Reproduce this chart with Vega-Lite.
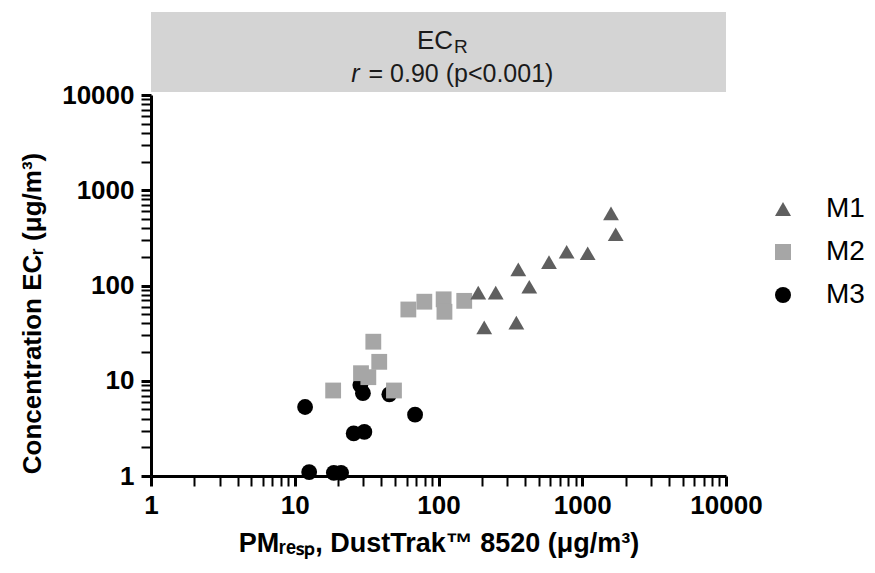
{
  "$schema": "https://vega.github.io/schema/vega-lite/v6.json",
  "background": "white",
  "padding": {"left": 19, "top": 12, "right": 5, "bottom": 5},
  "spacing": 3,
  "bounds": "flush",
  "config": {
    "font": "Liberation Sans",
    "view": {"stroke": null},
    "axis": {
      "labelFont": "Liberation Sans",
      "titleFont": "Liberation Sans",
      "labelFontWeight": "bold",
      "titleFontWeight": "bold",
      "labelFontSize": 26,
      "titleFontSize": 27,
      "labelColor": "#000000",
      "titleColor": "#000000",
      "domainColor": "#000000",
      "tickColor": "#000000",
      "domainWidth": 3,
      "tickWidth": 2.5,
      "ticks": true,
      "grid": false
    },
    "legend": {
      "labelFont": "Liberation Sans",
      "labelFontSize": 28,
      "labelColor": "#000000",
      "symbolSize": 256,
      "rowPadding": 15,
      "labelOffset": 29
    }
  },
  "vconcat": [
    {
      "width": 575,
      "height": 80,
      "view": {"fill": "#d4d4d4", "stroke": null},
      "data": {"values": [{"line1": "EC", "sub": "R", "r": "r", "rest": "= 0.90 (p<0.001)"}]},
      "layer": [
        {"mark": {"type": "text", "fontSize": 26, "font": "Liberation Sans", "align": "right", "baseline": "middle", "dx": 14.5, "dy": -11, "color": "#1a1a1a"}, "encoding": {"text": {"field": "line1"}}},
        {"mark": {"type": "text", "fontSize": 19, "font": "Liberation Sans", "align": "left", "baseline": "middle", "dx": 15.5, "dy": -5, "color": "#1a1a1a"}, "encoding": {"text": {"field": "sub"}}},
        {"mark": {"type": "text", "fontSize": 25, "font": "Liberation Sans", "fontStyle": "italic", "align": "right", "baseline": "middle", "dx": -79, "dy": 22, "color": "#1a1a1a"}, "encoding": {"text": {"field": "r"}}},
        {"mark": {"type": "text", "fontSize": 25, "font": "Liberation Sans", "align": "left", "baseline": "middle", "dx": -70, "dy": 22, "color": "#1a1a1a"}, "encoding": {"text": {"field": "rest"}}}
      ]
    },
    {
      "width": 575,
      "height": 381,
      "data": {"values": [
        {"Series": "M3", "x": 11.8, "y": 5.3},
        {"Series": "M3", "x": 12.6, "y": 1.1},
        {"Series": "M3", "x": 18.7, "y": 1.08},
        {"Series": "M3", "x": 21, "y": 1.08},
        {"Series": "M3", "x": 25.7, "y": 2.8},
        {"Series": "M3", "x": 30.5, "y": 2.9},
        {"Series": "M3", "x": 29.8, "y": 7.4},
        {"Series": "M3", "x": 28.6, "y": 9.0},
        {"Series": "M3", "x": 45.5, "y": 7.2},
        {"Series": "M3", "x": 68.7, "y": 4.4},
        {"Series": "M2", "x": 18.5, "y": 7.9},
        {"Series": "M2", "x": 49, "y": 7.9},
        {"Series": "M2", "x": 28.9, "y": 12},
        {"Series": "M2", "x": 32.5, "y": 10.9},
        {"Series": "M2", "x": 38.7, "y": 15.8},
        {"Series": "M2", "x": 35.2, "y": 25.7},
        {"Series": "M2", "x": 61.7, "y": 56},
        {"Series": "M2", "x": 79.7, "y": 67.6},
        {"Series": "M2", "x": 108.6, "y": 71.6},
        {"Series": "M2", "x": 110, "y": 53},
        {"Series": "M2", "x": 151, "y": 69},
        {"Series": "M1", "x": 189, "y": 84},
        {"Series": "M1", "x": 250, "y": 84},
        {"Series": "M1", "x": 208, "y": 36.4},
        {"Series": "M1", "x": 348, "y": 40.7},
        {"Series": "M1", "x": 359, "y": 148},
        {"Series": "M1", "x": 428, "y": 97},
        {"Series": "M1", "x": 587, "y": 176},
        {"Series": "M1", "x": 779, "y": 226},
        {"Series": "M1", "x": 1091, "y": 218},
        {"Series": "M1", "x": 1585, "y": 573},
        {"Series": "M1", "x": 1709, "y": 345}
      ]},
      "mark": {"type": "point", "filled": true, "opacity": 1, "clip": false, "size": 250},
      "encoding": {
        "x": {
          "field": "x", "type": "quantitative",
          "scale": {"type": "log", "domain": [1, 10000], "nice": false},
          "axis": {
            "title": "PMᵣₑₛₚ, DustTrak™ 8520 (μg/m³)",
            "values": [1,2,3,4,5,6,7,8,9,10,20,30,40,50,60,70,80,90,100,200,300,400,500,600,700,800,900,1000,2000,3000,4000,5000,6000,7000,8000,9000,10000],
            "format": "d",
            "labelExpr": "indexof([1,10,100,1000,10000], datum.value) >= 0 ? datum.label : ''",
            "tickSize": 10,
            "tickWidth": {"condition": {"test": "datum.value == 1 || datum.value == 10 || datum.value == 100 || datum.value == 1000 || datum.value == 10000", "value": 3}, "value": 2},
            "labelPadding": 6,
            "labelFlush": false,
            "labelOverlap": false,
            "titlePadding": 12
          }
        },
        "y": {
          "field": "y", "type": "quantitative",
          "scale": {"type": "log", "domain": [1, 10000], "nice": false},
          "axis": {
            "title": "Concentration ECᵣ (μg/m³)",
            "titleFontSize": 26,
            "titleY": 218,
            "values": [1,2,3,4,5,6,7,8,9,10,20,30,40,50,60,70,80,90,100,200,300,400,500,600,700,800,900,1000,2000,3000,4000,5000,6000,7000,8000,9000,10000],
            "format": "d",
            "labelExpr": "indexof([1,10,100,1000,10000], datum.value) >= 0 ? datum.label : ''",
            "tickSize": 10,
            "tickWidth": {"condition": {"test": "datum.value == 1 || datum.value == 10 || datum.value == 100 || datum.value == 1000 || datum.value == 10000", "value": 3}, "value": 2},
            "labelPadding": 7,
            "labelFlush": false,
            "labelOverlap": false,
            "titlePadding": 16
          }
        },
        "shape": {"field": "Series", "type": "nominal", "scale": {"domain": ["M1", "M2", "M3"], "range": ["triangle-up", "square", "circle"]}, "legend": {"title": null, "orient": "none", "legendX": 618, "legendY": 183}},
        "color": {"field": "Series", "type": "nominal", "scale": {"domain": ["M1", "M2", "M3"], "range": ["#5f5f5f", "#a6a6a6", "#000000"]}, "legend": {"title": null, "orient": "none", "legendX": 618, "legendY": 183}}
      }
    }
  ]
}
